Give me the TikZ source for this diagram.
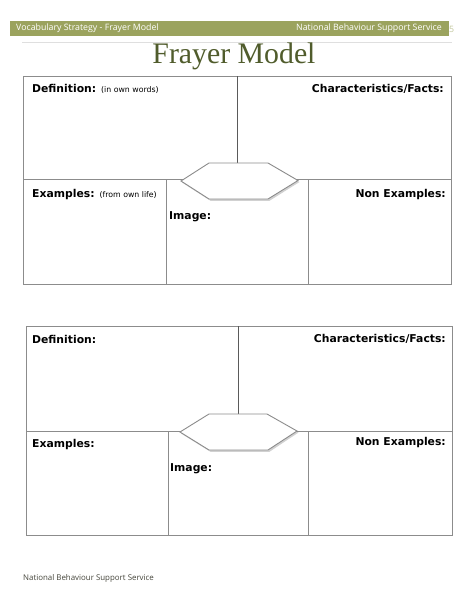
\documentclass[tikz,border=0pt]{standalone}
\usepackage{fontspec}
\setmainfont{Liberation Serif}
\newfontfamily\labfont{DejaVu Sans}
\newfontfamily\hdrfont{Open Sans}
\usetikzlibrary{calc}
\definecolor{barolive}{RGB}{155,163,94}
\definecolor{titleolive}{RGB}{80,92,44}
\definecolor{gridgray}{RGB}{140,140,140}
\definecolor{divgray}{RGB}{90,90,90}
\definecolor{footgray}{RGB}{70,70,60}
\tikzset{
  grid/.style={draw=gridgray, line width=0.9pt},
  divline/.style={draw=divgray, line width=0.9pt},
  hexbox/.style={draw=gridgray, line width=0.9pt, fill=white},
  hexshadow/.style={fill=black, opacity=0.18},
  lab/.style={inner sep=0pt, font=\labfont\bfseries\fontsize{10.8}{12}\selectfont, text=black},
  hdr/.style={inner sep=0pt, font=\hdrfont\fontsize{8.8}{10}\selectfont, text=white},
}
\newcommand{\smalllab}[1]{{\mdseries\fontsize{7.8}{9}\selectfont #1}}
\begin{document}
\begin{tikzpicture}[x=1pt,y=-1pt]
\useasboundingbox (0,0) rectangle (474,613);
\fill[white] (0,0) rectangle (474,613);
% header
\fill[barolive] (10,21) rectangle (449,36);
\node[hdr, anchor=west] (hl) at (16,28.5) {Vocabulary Strategy - Frayer Model};
\node[hdr, anchor=east] (hr) at (442,28.5) {National Behaviour Support Service};
\node[hdr, anchor=west, text=barolive!60] (pg) at (449,29) {5};
\draw[gray!25, line width=0.6pt] (22,42) -- (452,42);
% title
\node[inner sep=0pt, anchor=base, font=\fontsize{29.8}{32}\selectfont, text=titleolive] (title) at (234,63) {Frayer Model};

% ---------- Frame 1 ----------
\draw[grid] (23,76) rectangle (451,284);
\draw[grid] (23,179.5) -- (451,179.5);
\draw[divline] (237,76) -- (237,163);
\draw[grid] (166,179.5) -- (166,284);
\draw[grid] (308,179.5) -- (308,284);
\fill[hexshadow] (210,164.5) -- (269,164.5) -- (299.5,182) -- (269.5,200.8) -- (210.5,200.8) -- (182,182.5) -- cycle;
\draw[hexbox] (209,163) -- (268,163) -- (298,180.5) -- (268,199) -- (209,199) -- (181,181) -- cycle;
\node[lab, anchor=west] (def1) at (32,89) {Definition: \smalllab{(in own words)}};
\node[lab, anchor=east] (char1) at (444,89) {Characteristics/Facts:};
\node[lab, anchor=west] (ex1) at (32,195) {Examples: \smalllab{(from own life)}};
\node[lab, anchor=east] (non1) at (446,195) {Non Examples:};
\node[lab, anchor=west] (img1) at (169,217) {Image:};

% ---------- Frame 2 ----------
\draw[grid] (26,326) rectangle (452,535);
\draw[grid] (26,431) -- (452,431);
\draw[divline] (238,326) -- (238,414);
\draw[grid] (168,431) -- (168,535);
\draw[grid] (308,431) -- (308,535);
\fill[hexshadow] (210,415.5) -- (268.5,415.5) -- (298.5,432.5) -- (269.5,451.8) -- (210.5,451.8) -- (181,433.5) -- cycle;
\draw[hexbox] (209,414) -- (267,414) -- (297,431) -- (268,450) -- (209,450) -- (180,432) -- cycle;
\node[lab, anchor=west] (def2) at (32,339) {Definition:};
\node[lab, anchor=east] (char2) at (446,339) {Characteristics/Facts:};
\node[lab, anchor=west] (ex2) at (32,445) {Examples:};
\node[lab, anchor=east] (non2) at (446,443) {Non Examples:};
\node[lab, anchor=west] (img2) at (170,469) {Image:};

% footer
\node[inner sep=0pt, anchor=west, font=\hdrfont\fontsize{7.9}{9}\selectfont, text=footgray] (foot) at (23,578) {National Behaviour Support Service};
\end{tikzpicture}
\end{document}
